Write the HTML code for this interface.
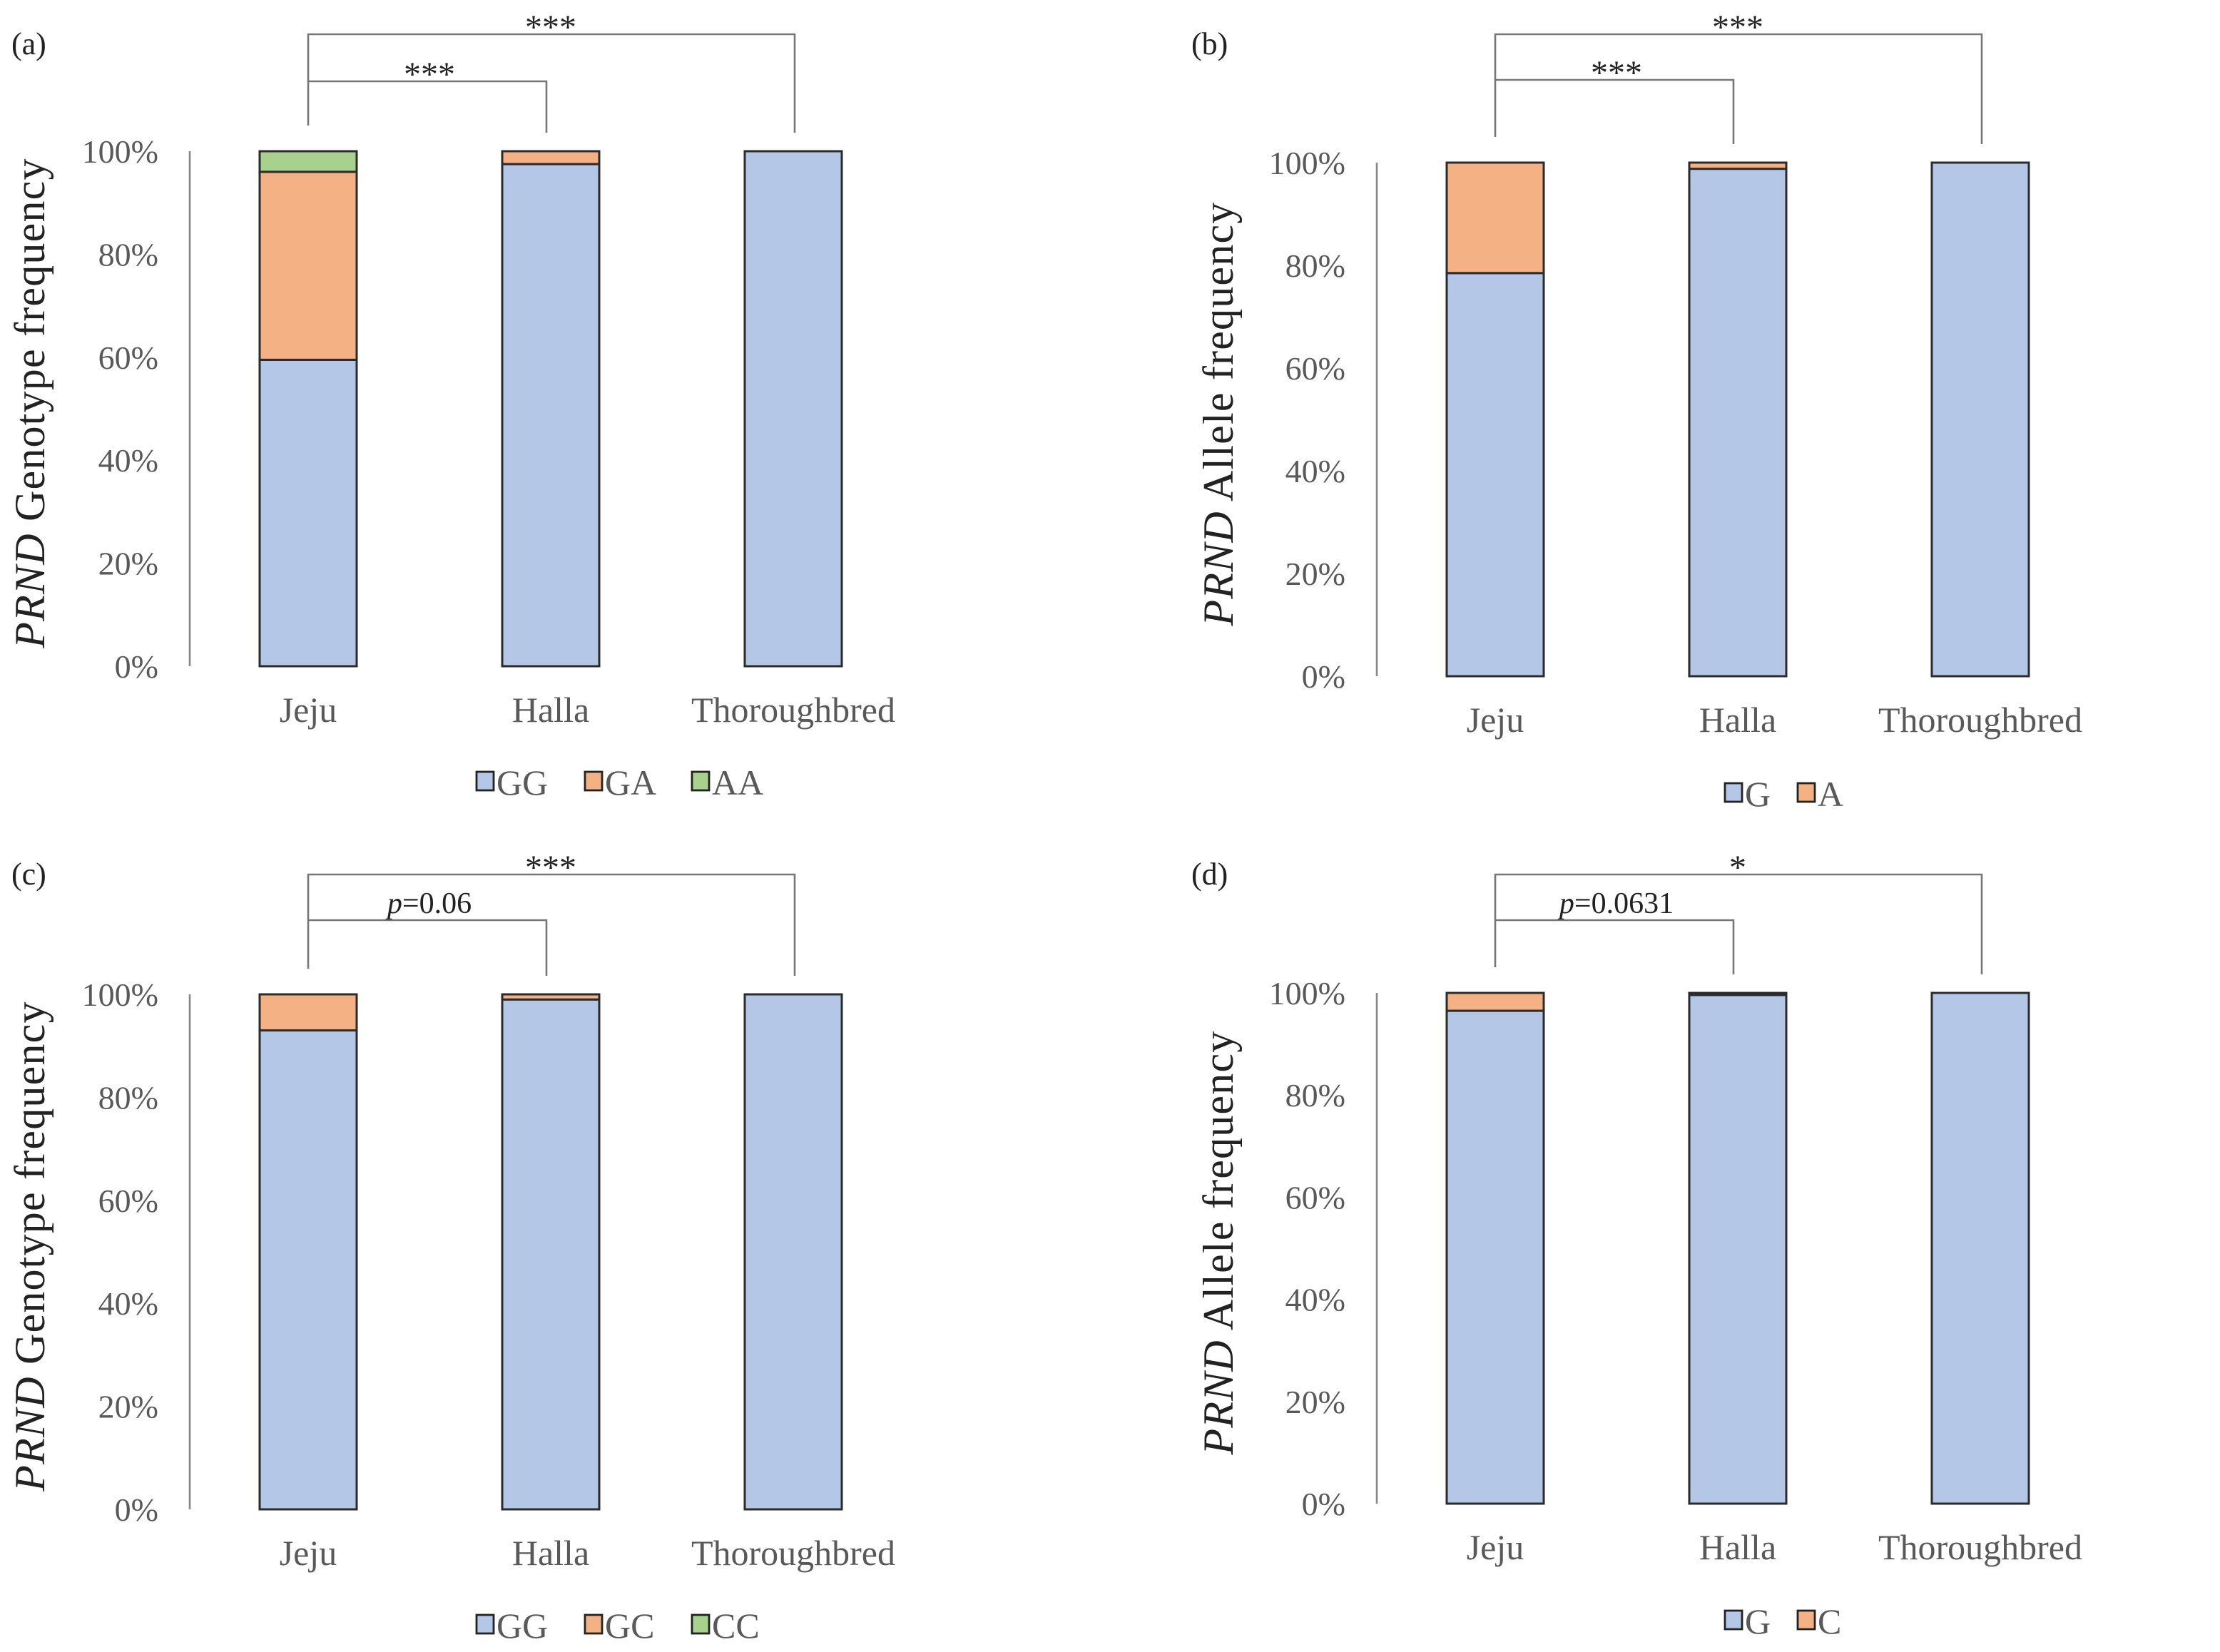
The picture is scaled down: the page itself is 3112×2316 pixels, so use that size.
<!DOCTYPE html>
<html><head><meta charset="utf-8"><style>
html,body{margin:0;padding:0;background:#fff;}
svg{display:block;font-family:"Liberation Serif",serif;}
</style></head><body>
<svg id="chart" width="3112" height="2316" viewBox="0 0 1556 1158" xmlns="http://www.w3.org/2000/svg"></svg>
<script>
const categories = ["Jeju","Halla","Thoroughbred"];
const yTicks = [0,20,40,60,80,100];
const tickLabels = ["0%","20%","40%","60%","80%","100%"];
// panel a
const aSeriesNames = ["GG","GA","AA"];
const aGG = [59.5,97.5,100];
const aGA = [36.5,2.5,0];
const aAA = [4,0,0];
// panel b
const bSeriesNames = ["G","A"];
const bG = [78.5,98.8,100];
const bA = [21.5,1.2,0];
// panel c
const cSeriesNames = ["GG","GC","CC"];
const cGG = [93,99,100];
const cGC = [7,1,0];
const cCC = [0,0,0];
// panel d
const dSeriesNames = ["G","C"];
const dG = [96.5,99.6,100];
const dC = [3.5,0.4,0];
// significance labels
const aSig = ["***","***"];
const bSig = ["***","***"];
const cSig = ["p=0.06","***"];
const dSig = ["p=0.0631","*"];

const colors = ["#b4c7e7","#f4b183","#a9d18e"];
const NS = "http://www.w3.org/2000/svg";
const svg = document.getElementById('chart');
function mk(tag, attrs, parent){
  const e = document.createElementNS(NS, tag);
  for (const k in attrs) e.setAttribute(k, attrs[k]);
  (parent||svg).appendChild(e);
  return e;
}

const panels = [
  {id:"a", ax:133, y0:467, y1:106, cx:[216,386,556], series:[aGG,aGA,aAA], names:aSeriesNames, title:"Genotype frequency", tx:22, legY:548, legX:[334,410,485], sig:aSig, br:[24,57], lab:[8,38]},
  {id:"b", ax:965, y0:474, y1:114, cx:[1048,1218,1388], series:[bG,bA], names:bSeriesNames, title:"Allele frequency", tx:855, legY:556, legX:[1209,1260], sig:bSig, br:[24,56], lab:[835,38]},
  {id:"c", ax:133, y0:1058, y1:697, cx:[216,386,556], series:[cGG,cGC,cCC], names:cSeriesNames, title:"Genotype frequency", tx:22, legY:1139, legX:[334,410,485], sig:cSig, br:[613,645], lab:[8,620]},
  {id:"d", ax:965, y0:1054, y1:696, cx:[1048,1218,1388], series:[dG,dC], names:dSeriesNames, title:"Allele frequency", tx:855, legY:1136, legX:[1209,1260], sig:dSig, br:[613,645], lab:[835,620]}
];

panels.forEach(p => {
  const g = mk('g', {});
  
  
  const yS = v => p.y0 - (p.y0 - p.y1) * v / 100;
  const pl = mk('text', {x:p.lab[0], y:p.lab[1], 'font-size':22, fill:'#222'}, g);
  pl.textContent = '(' + p.id + ')';
  
  
  const ax = mk('line', {x1:p.ax, x2:p.ax, y1:p.y1, y2:p.y0, stroke:'#888', 'stroke-width':1.3}, g);
  
  
  yTicks.forEach((t,i) => {
    const tl = mk('text', {x:p.ax-22, y:yS(t)+8, 'font-size':23, fill:'#595959', 'text-anchor':'end'}, g);
    tl.textContent = tickLabels[i];
    
    
  });
  const yt = mk('text', {transform:'translate(' + (p.tx+9) + ',' + ((p.y0+p.y1)/2 - 4) + ') rotate(-90)', 'font-size':30, fill:'#222', 'text-anchor':'middle', 'letter-spacing':'0.6'}, g);
  
  
  const it = mk('tspan', {'font-style':'italic'}, yt); it.textContent = 'PRND';
  const rt = mk('tspan', {}, yt); rt.textContent = ' ' + p.title;
  categories.forEach((c,ci) => {
    let acc = 0;
    p.series.forEach((s,si) => {
      const v = s[ci];
      if (v <= 0) return;
      const top = yS(acc + v), bot = yS(acc);
      const r = mk('rect', {x:p.cx[ci]-34, y:top, width:68, height:bot-top, fill:colors[si], stroke:'#2b2b2b', 'stroke-width':1.5}, g);
      
      
      acc += v;
    });
    const cl = mk('text', {x:p.cx[ci], y:p.y0+39, 'font-size':25, fill:'#595959', 'text-anchor':'middle'}, g);
    cl.textContent = c;
    
    
  });
  const inner = mk('polyline', {points:`${p.cx[0]},${p.y1-18} ${p.cx[0]},${p.br[1]} ${p.cx[1]-3},${p.br[1]} ${p.cx[1]-3},${p.y1-13}`, fill:'none', stroke:'#777', 'stroke-width':1.3}, g);
  
  
  const outer = mk('polyline', {points:`${p.cx[0]},${p.br[1]} ${p.cx[0]},${p.br[0]} ${p.cx[2]+1},${p.br[0]} ${p.cx[2]+1},${p.y1-13}`, fill:'none', stroke:'#777', 'stroke-width':1.3}, g);
  
  
  [[0,(p.cx[0]+p.cx[1])/2, p.br[1]-5],[1,(p.cx[0]+p.cx[2])/2, p.br[0]-5]].forEach(([i,x,y]) => {
    const s = p.sig[i];
    const st = mk('text', {x:x, y:(s.startsWith('p')?y:y+8), 'font-size':(s.startsWith('p')?21:24), fill:'#222', 'text-anchor':'middle'}, g);
    
    
    if (s.startsWith('p')) {
      const a = mk('tspan', {'font-style':'italic'}, st); a.textContent = 'p';
      const b = mk('tspan', {}, st); b.textContent = s.slice(1);
    } else st.textContent = s;
  });
  p.names.forEach((n,i) => {
    const lg = mk('g', {}, g);
    
    
    mk('rect', {x:p.legX[i], y:p.legY-7, width:12, height:13, fill:colors[i], stroke:'#222', 'stroke-width':1.4}, lg);
    const lt = mk('text', {x:p.legX[i]+14, y:p.legY+9, 'font-size':25, fill:'#595959'}, lg);
    lt.textContent = n;
  });
});
</script>
</body></html>
